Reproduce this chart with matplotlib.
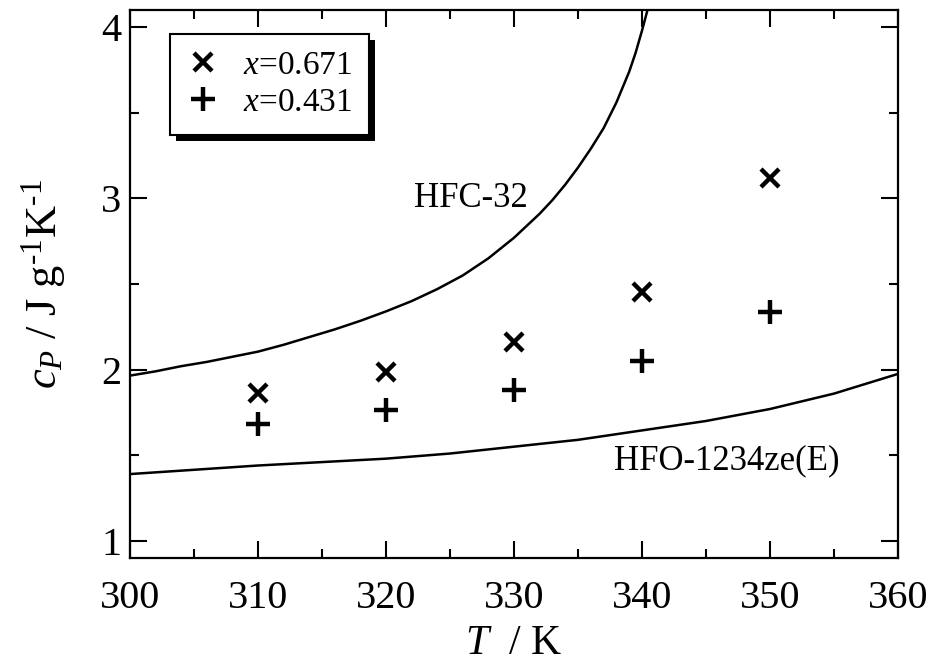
import matplotlib
matplotlib.use("Agg")
import matplotlib.pyplot as plt
from matplotlib.patches import Rectangle
from matplotlib.ticker import MultipleLocator

plt.rcParams['font.family'] = ['Liberation Serif', 'DejaVu Serif']
plt.rcParams['mathtext.fontset'] = 'custom'
plt.rcParams['mathtext.rm'] = 'Liberation Serif'
plt.rcParams['mathtext.it'] = 'Liberation Serif:italic'
plt.rcParams['mathtext.bf'] = 'Liberation Serif:bold'

# measured heat capacities
T_pts = [310, 320, 330, 340, 350]
cp_x0671 = [1.864, 1.985, 2.163, 2.452, 3.117]
cp_x0431 = [1.683, 1.765, 1.883, 2.053, 2.335]

# pure-fluid reference curves
T_hfc32 = [300, 302, 304, 306, 308, 310, 312, 314, 316, 318, 320, 322, 324, 326, 328, 329,
           330, 331, 332, 333, 334, 335, 336, 337, 338, 339, 339.5, 340, 340.5, 341]
cp_hfc32 = [1.965, 1.99, 2.02, 2.045, 2.075, 2.105, 2.145, 2.19, 2.235, 2.285, 2.34, 2.40, 2.47, 2.55, 2.65, 2.71,
            2.77, 2.84, 2.91, 2.99, 3.08, 3.18, 3.29, 3.41, 3.56, 3.74, 3.85, 3.98, 4.12, 4.3]
T_hfo = [300, 305, 310, 315, 320, 325, 330, 335, 340, 345, 350, 355, 360]
cp_hfo = [1.39, 1.415, 1.44, 1.46, 1.48, 1.51, 1.55, 1.59, 1.645, 1.70, 1.77, 1.86, 1.975]

legend_labels = [r'$x$=0.671', r'$x$=0.431']

fig = plt.figure(figsize=(9.37, 6.68), dpi=100)
ax = fig.add_axes([0.1387, 0.1647, 0.8197, 0.8203])

ax.plot(T_hfc32, cp_hfc32, color='k', lw=1.8)
ax.plot(T_hfo, cp_hfo, color='k', lw=1.8)
ax.plot(T_pts, cp_x0671, ls='none', marker='x', ms=13, mew=3.2, color='k', label=legend_labels[0])
ax.plot(T_pts, cp_x0431, ls='none', marker='+', ms=17, mew=3.2, color='k', label=legend_labels[1])

ax.text(326.6, 3.0, 'HFC-32', fontsize=25, ha='center', va='center')
ax.text(346.6, 1.47, 'HFO-1234ze(E)', fontsize=25, ha='center', va='center')

ax.set_xlim(300, 360)
ax.set_ylim(0.9, 4.1)
ax.xaxis.set_major_locator(MultipleLocator(10))
ax.xaxis.set_minor_locator(MultipleLocator(5))
ax.yaxis.set_major_locator(MultipleLocator(1))
ax.yaxis.set_minor_locator(MultipleLocator(0.5))
ax.tick_params(which='both', direction='in', top=True, right=True, width=1.5, labelsize=29)
ax.tick_params(which='major', length=12)
ax.tick_params(axis='x', which='major', pad=16)
ax.tick_params(axis='y', which='major', pad=6)
ax.tick_params(which='minor', length=6.5)
for s in ax.spines.values():
    s.set_linewidth(1.6)

ax.set_xlabel(r'$T$  / K', fontsize=30, labelpad=5)
ax.set_ylabel(r'$c_P\ /\ \mathrm{J\ g^{\text{-1}}K^{\text{-1}}}$', fontsize=32, labelpad=24)

leg = ax.legend(loc='upper left', bbox_to_anchor=(0.052, 0.957), fontsize=24, frameon=True,
                fancybox=False, edgecolor='k', framealpha=1, handlelength=1.0, handletextpad=0.7,
                borderpad=0.5, labelspacing=0.2, borderaxespad=0, handleheight=0.7)
leg.get_frame().set_linewidth(1.5)

fig.canvas.draw()
bb = leg.get_window_extent()
shadow = Rectangle((bb.x0 + 6, bb.y0 - 6), bb.width, bb.height, transform=None,
                   facecolor='k', edgecolor='none', zorder=4, clip_on=False)
ax.add_patch(shadow)

fig.savefig('out.png', dpi=100)
